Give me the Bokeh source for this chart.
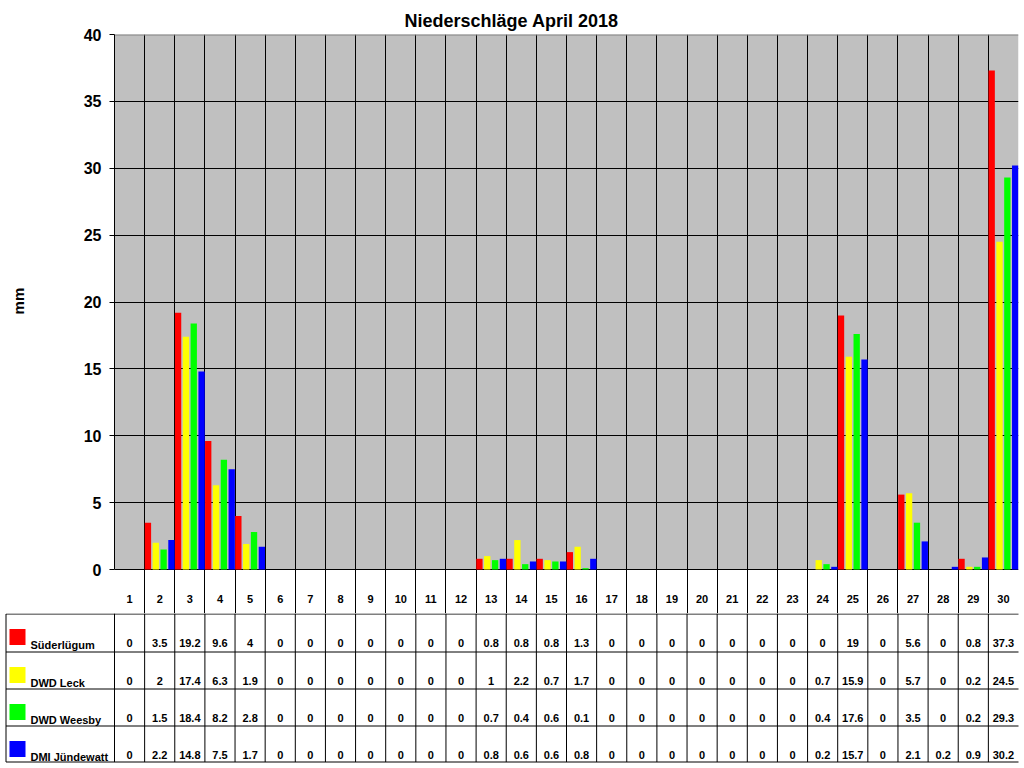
from bokeh.plotting import figure
from bokeh.models import (ColumnDataSource, Range1d, FixedTicker, Title)
from bokeh.transform import dodge
from bokeh.core.properties import value
from bokeh.embed import file_html
from bokeh.resources import INLINE

# data (mm per day, April 2018)
days = list(range(1, 31))
series_names = ["Süderlügum", "DWD Leck", "DWD Weesby", "DMI Jündewatt"]
series_colors = ["#ff0000", "#ffff00", "#00ff00", "#0000ff"]
suederluegum = [0, 3.5, 19.2, 9.6, 4, 0, 0, 0, 0, 0, 0, 0, 0.8, 0.8, 0.8,
                1.3, 0, 0, 0, 0, 0, 0, 0, 0, 19, 0, 5.6, 0, 0.8, 37.3]
dwd_leck = [0, 2, 17.4, 6.3, 1.9, 0, 0, 0, 0, 0, 0, 0, 1, 2.2, 0.7,
            1.7, 0, 0, 0, 0, 0, 0, 0, 0.7, 15.9, 0, 5.7, 0, 0.2, 24.5]
dwd_weesby = [0, 1.5, 18.4, 8.2, 2.8, 0, 0, 0, 0, 0, 0, 0, 0.7, 0.4, 0.6,
              0.1, 0, 0, 0, 0, 0, 0, 0, 0.4, 17.6, 0, 3.5, 0, 0.2, 29.3]
dmi_juendewatt = [0, 2.2, 14.8, 7.5, 1.7, 0, 0, 0, 0, 0, 0, 0, 0.8, 0.6, 0.6,
                  0.8, 0, 0, 0, 0, 0, 0, 0, 0.2, 15.7, 0, 2.1, 0.2, 0.9, 30.2]
y_ticks = [0, 5, 10, 15, 20, 25, 30, 35, 40]

all_series = [suederluegum, dwd_leck, dwd_weesby, dmi_juendewatt]
FONT = "Liberation Sans"

# ---- chart (plot area + header row with the day numbers) ----
W = 1022
ppy = 535 / 40.0          # pixels per mm
ppu = 904 / 30.0          # pixels per day
header_h = 44             # header row below the plot area
y_low = -header_h / ppy
p = figure(width=W, height=34 + 535 + header_h, output_backend="svg",
           toolbar_location=None,
           x_range=Range1d(0.5, 30.5), y_range=Range1d(y_low, 40),
           min_border_left=114, min_border_right=4, min_border_top=34,
           min_border_bottom=0)
p.add_layout(Title(text="Niederschläge April 2018", align="left",
                   text_font=FONT, text_font_size="18px", text_font_style="bold",
                   text_color="black", offset=290, standoff=7), "above")
p.background_fill_color = "white"
p.border_fill_color = "white"
p.outline_line_color = None
p.xaxis.visible = False

# grey plot area
p.quad(left=[0.5], right=[30.5], bottom=[0], top=[40],
       fill_color="#c0c0c0", line_color=None, level="image")
p.segment(x0=[0.5], y0=[40], x1=[30.5], y1=[40], line_color="#808080",
          line_width=2)

p.yaxis.bounds = (0, 40)
p.yaxis.ticker = FixedTicker(ticks=y_ticks)
p.yaxis.minor_tick_line_color = None
p.yaxis.major_tick_out = 5
p.yaxis.major_tick_in = 0
p.yaxis.axis_line_color = "black"
p.yaxis.major_tick_line_color = "black"
p.yaxis.major_label_text_font = FONT
p.yaxis.major_label_text_font_size = "16px"
p.yaxis.major_label_text_font_style = "bold"
p.yaxis.major_label_text_color = "black"
p.yaxis.major_label_standoff = 8
# the label is centred on the whole frame (incl. header row); pad it with
# non-breaking spaces so "mm" sits in the middle of the 0..40 part
p.yaxis.axis_label = "\u00a0" * 11 + "mm"
p.yaxis.axis_label_text_font = FONT
p.yaxis.axis_label_text_font_size = "15px"
p.yaxis.axis_label_text_font_style = "bold"
p.yaxis.axis_label_text_color = "black"
p.yaxis.axis_label_standoff = 54

p.ygrid.ticker = FixedTicker(ticks=y_ticks[:-1])
p.ygrid.grid_line_color = "black"
p.ygrid.grid_line_alpha = 1
p.xgrid.ticker = FixedTicker(ticks=[d + 0.5 for d in range(0, 30)])
p.xgrid.grid_line_color = "black"
p.xgrid.grid_line_alpha = 1

src = ColumnDataSource(dict(day=days, s0=suederluegum, s1=dwd_leck,
                            s2=dwd_weesby, s3=dmi_juendewatt))
offsets = [-0.39, -0.13, 0.13, 0.39]
for i in range(4):
    p.vbar(x=dodge("day", offsets[i]), top="s%d" % i, width=0.21, source=src,
           fill_color=series_colors[i], line_color=None)

p.text(x=days, y=-29 / ppy, text=[str(d) for d in days], text_align="center",
       text_baseline="middle", text_font=value(FONT), text_font_size="11px",
       text_font_style="bold", text_color="black")

# ---- table rows below ----
xs = 0.5 - 114 / ppu
xe = xs + W / ppu
H2 = 150
t = figure(width=W, height=H2, output_backend="svg", toolbar_location=None,
           x_range=Range1d(xs, xe), y_range=Range1d(H2, 0),
           min_border_left=0, min_border_right=0, min_border_top=0,
           min_border_bottom=0, x_axis_type=None, y_axis_type=None)
t.outline_line_color = None
t.grid.visible = False

def px(v):
    return xs + v / ppu

row_lines = [0.5, 38.5, 75.5, 112.5, 148.5]
x_left = px(5.5)
t.segment(x0=[d + 0.5 for d in range(0, 30)], y0=0,
          x1=[d + 0.5 for d in range(0, 30)], y1=row_lines[-1],
          line_color="black", line_width=1)
t.segment(x0=[x_left], y0=[row_lines[0]], x1=[x_left], y1=[row_lines[-1]],
          line_color="black", line_width=1)
t.segment(x0=x_left, y0=row_lines, x1=30.5, y1=row_lines,
          line_color="black", line_width=1)

for i, (name, vals) in enumerate(zip(series_names, all_series)):
    top = row_lines[i]
    t.quad(left=[px(9)], right=[px(25)], top=[top + 15], bottom=[top + 31],
           fill_color=series_colors[i], line_color=None)
    t.text(x=[px(30)], y=[top + 31], text=[name], text_align="left",
           text_baseline="middle", text_font=value(FONT),
           text_font_size="11px", text_font_style="bold", text_color="black")
    t.text(x=days, y=top + 29, text=["%g" % v for v in vals],
           text_align="center", text_baseline="middle", text_font=value(FONT),
           text_font_size="11px", text_font_style="bold", text_color="black")

open("out.html", "w").write(file_html([p, t], INLINE))
